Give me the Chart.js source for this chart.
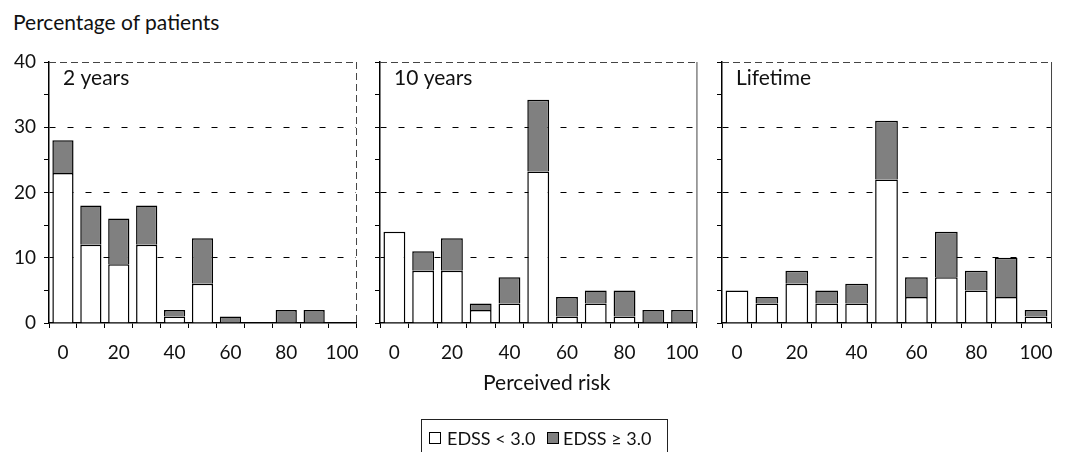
<!DOCTYPE html>
<html>
<head>
<meta charset="utf-8">
<script src="https://cdn.jsdelivr.net/npm/chart.js@4/dist/chart.umd.min.js"></script>
<style>
  body { margin: 0; background: #fff; width: 1066px; height: 452px; overflow: hidden; position: relative; font-family: Lato, sans-serif; color: #111; }
  canvas { position: absolute; top: 0; }
  .txt { position: absolute; white-space: nowrap; line-height: 1; }
  #legend { position: absolute; left: 421px; top: 419px; width: 247px; height: 40px; border: 1px solid #222; box-sizing: border-box; }
  #legend .sw { position: absolute; top: 12px; width: 12px; height: 12px; border: 1.3px solid #000; box-sizing: border-box; }
  #legend .lb { position: absolute; top: 9px; font-size: 18px; line-height: 1; }
</style>
</head>
<body>
<div class="txt" style="left:13px;top:11px;font-size:21px;">Percentage of patients</div>
<canvas id="p1" width="372" height="370" style="left:0px"></canvas>
<canvas id="p2" width="344" height="370" style="left:368px"></canvas>
<canvas id="p3" width="358" height="370" style="left:708px"></canvas>
<div class="txt" style="left:483px;top:371px;font-size:21px;">Perceived risk</div>
<div id="legend">
  <div class="sw" style="left:7px;background:#fff"></div>
  <div class="lb" style="left:25px">EDSS &lt; 3.0</div>
  <div class="sw" style="left:125px;background:#808080"></div>
  <div class="lb" style="left:141px">EDSS ≥ 3.0</div>
</div>
<script>
// perceived risk categories (%)
const riskLabels = ['0', '10', '20', '30', '40', '50', '60', '70', '80', '90', '100'];

// 2 years
const white2y = [23, 12, 9, 12, 1, 6, 0, 0, 0, 0, 0];
const grey2y  = [5, 6, 7, 6, 1, 7, 1, 0, 2, 2, 0];

// 10 years
const white10y = [14, 8, 8, 2, 3, 23.2, 1, 3, 1, 0, 0];
const grey10y  = [0, 3, 5, 1, 4, 11, 3, 2, 4, 2, 2];

// lifetime
const whiteLife = [5, 3, 6, 3, 3, 22, 4, 7, 5, 4, 1];
const greyLife  = [0, 1, 2, 2, 3, 9, 3, 7, 3, 6, 1];

const gridValues = [10, 20, 30];

const FONT = 'Lato, sans-serif';

const panelDecor = {
    id: 'panelDecor',
    afterDraw(chart, args, opts) {
        const a = chart.chartArea;
        const ctx = chart.ctx;
        ctx.save();
        ctx.strokeStyle = '#444';
        ctx.lineWidth = 1;
        ctx.setLineDash([7, 4]);
        ctx.beginPath();
        ctx.moveTo(a.left, a.top + 0.5);
        ctx.lineTo(a.right, a.top + 0.5);
        ctx.stroke();
        if (!opts.dashRight) ctx.setLineDash([]);
        ctx.beginPath();
        ctx.moveTo(a.right + 0.5, a.top);
        ctx.lineTo(a.right + 0.5, a.bottom);
        ctx.stroke();
        ctx.setLineDash([]);
        ctx.fillStyle = '#111';
        ctx.font = '21px ' + FONT;
        ctx.textBaseline = 'middle';
        ctx.fillText(opts.label, a.left + 14, a.top + 16);
        ctx.restore();
    }
};

function makePanel(id, canvasLeft, plotLeft, plotRight, canvasWidth, white, grey, label, showY, dashRight) {
    const ctx = document.getElementById(id).getContext('2d');
    return new Chart(ctx, {
        type: 'bar',
        data: {
            labels: riskLabels,
            datasets: [{
                label: 'EDSS < 3.0',
                data: white,
                backgroundColor: '#ffffff',
                borderColor: '#000',
                borderWidth: 1.5
            }, {
                label: 'EDSS ≥ 3.0',
                data: grey,
                backgroundColor: '#808080',
                borderColor: '#000',
                borderWidth: 1.5
            }]
        },
        options: {
            responsive: false,
            animation: false,
            devicePixelRatio: 1,
            layout: { padding: { top: 62, right: canvasWidth - (plotRight - canvasLeft), left: 0, bottom: 0 } },
            plugins: {
                legend: { display: false },
                tooltip: { enabled: false },
                panelDecor: { label: label, dashRight: dashRight }
            },
            datasets: {
                bar: { categoryPercentage: 1, barPercentage: 0.76 }
            },
            scales: {
                x: {
                    stacked: true,
                    offset: true,
                    grid: { offset: true, drawOnChartArea: false, drawTicks: true, tickLength: 5, color: '#000' },
                    border: { color: '#000', width: 1.5 },
                    ticks: {
                        autoSkip: false,
                        maxRotation: 0,
                        padding: 13,
                        color: '#111',
                        font: { family: FONT, size: 19 },
                        callback: (v, i) => i % 2 === 0 ? riskLabels[i] : ''
                    },
                    afterFit: s => { s.height = 47; }
                },
                y: {
                    stacked: true,
                    min: 0,
                    max: 40,
                    grid: {
                        color: c => gridValues.includes(c.tick.value) ? '#000' : 'transparent',
                        tickColor: '#000',
                        tickLength: 5,
                        lineWidth: 1
                    },
                    border: { color: '#000', width: 1.5, dash: [6, 12] },
                    ticks: {
                        stepSize: 5,
                        padding: 8,
                        color: '#111',
                        font: { family: FONT, size: 19 },
                        callback: v => (showY && v % 10 === 0) ? v : ''
                    },
                    afterFit: s => { s.width = plotLeft - canvasLeft; }
                }
            }
        },
        plugins: [panelDecor]
    });
}

makePanel('p1', 0, 49, 363, 372, white2y, grey2y, '2 years', true, true);
makePanel('p2', 368, 380, 703, 344, white10y, grey10y, '10 years', false, false);
makePanel('p3', 708, 722, 1057, 358, whiteLife, greyLife, 'Lifetime', false, false);
</script>
</body>
</html>
